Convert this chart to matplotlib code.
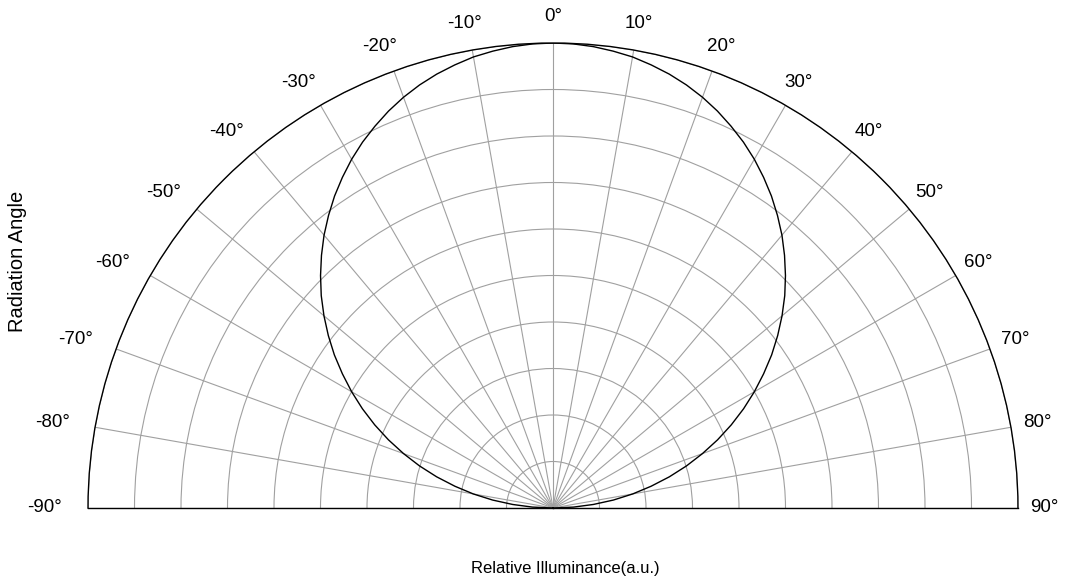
import numpy as np
import matplotlib.pyplot as plt
from matplotlib.transforms import offset_copy

# radiation pattern (degrees, relative illuminance)
angles = [-90, -87.5, -85, -82.5, -80, -77.5, -75, -72.5, -70, -67.5, -65, -62.5, -60, -57.5,
          -55, -52.5, -50, -47.5, -45, -42.5, -40, -37.5, -35, -32.5, -30, -27.5, -25, -22.5,
          -20, -17.5, -15, -12.5, -10, -7.5, -5, -2.5, 0, 2.5, 5, 7.5, 10, 12.5, 15, 17.5, 20,
          22.5, 25, 27.5, 30, 32.5, 35, 37.5, 40, 42.5, 45, 47.5, 50, 52.5, 55, 57.5, 60, 62.5,
          65, 67.5, 70, 72.5, 75, 77.5, 80, 82.5, 85, 87.5, 90]
intensity = [0.0, 0.044, 0.087, 0.131, 0.174, 0.216, 0.259, 0.301, 0.342, 0.383, 0.423, 0.462,
             0.5, 0.537, 0.574, 0.609, 0.643, 0.676, 0.707, 0.737, 0.766, 0.793, 0.819, 0.843,
             0.866, 0.887, 0.906, 0.924, 0.94, 0.954, 0.966, 0.976, 0.985, 0.991, 0.996, 0.999,
             1.0, 0.999, 0.996, 0.991, 0.985, 0.976, 0.966, 0.954, 0.94, 0.924, 0.906, 0.887,
             0.866, 0.843, 0.819, 0.793, 0.766, 0.737, 0.707, 0.676, 0.643, 0.609, 0.574, 0.537,
             0.5, 0.462, 0.423, 0.383, 0.342, 0.301, 0.259, 0.216, 0.174, 0.131, 0.087, 0.044, 0.0]

tick_angles = [-90, -80, -70, -60, -50, -40, -30, -20, -10, 0, 10, 20, 30, 40, 50, 60, 70, 80, 90]
tick_labels = ['-90°', '-80°', '-70°', '-60°', '-50°', '-40°', '-30°', '-20°', '-10°', '0°',
               '10°', '20°', '30°', '40°', '50°', '60°', '70°', '80°', '90°']
rings = [0.1, 0.2, 0.3, 0.4, 0.5, 0.6, 0.7, 0.8, 0.9, 1.0]

fig = plt.figure(figsize=(10.67, 5.84), dpi=100)
# half disc sits in the middle of a square box, so the box spills past the figure edges
ax = fig.add_axes([88 / 1067, -156.5 / 584, 930 / 1067, 930 / 584], projection='polar')
ax.set_theta_zero_location('N')
ax.set_theta_direction(-1)
ax.set_thetamin(-90)
ax.set_thetamax(90)
ax.set_ylim(0, 1)

ax.set_rgrids(rings, labels=[''] * len(rings))
ax.set_thetagrids(tick_angles, labels=[''] * len(tick_angles))
ax.grid(color='#a0a0a0', linewidth=0.8)

for name in ['polar', 'start', 'end']:
    ax.spines[name].set_color('black')
    ax.spines[name].set_linewidth(1.0)
ax.spines['inner'].set_visible(False)

ax.plot(np.radians(angles), intensity, color='black', linewidth=1.0)

# angle labels just outside the rim; negative ones sit a bit further out
for a, lab in zip(tick_angles, tick_labels):
    shift = -17 * abs(np.sin(np.radians(a))) if a < 0 else 0
    tr = offset_copy(ax.transData, fig=fig, x=shift, y=0, units='dots')
    ax.text(np.radians(a), 1.057, lab, transform=tr, ha='center', va='center',
            fontsize=13.5, family='Liberation Sans', color='black')

fig.text(18 / 1067, 1 - 261 / 584, 'Radiation Angle', rotation=90, ha='center', va='center',
         fontsize=14.5, family='Liberation Sans')
fig.text(565 / 1067, 1 - 569 / 584, 'Relative Illuminance(a.u.)', ha='center', va='center',
         fontsize=12, family='Liberation Sans')

fig.savefig('out.png', dpi=100)
